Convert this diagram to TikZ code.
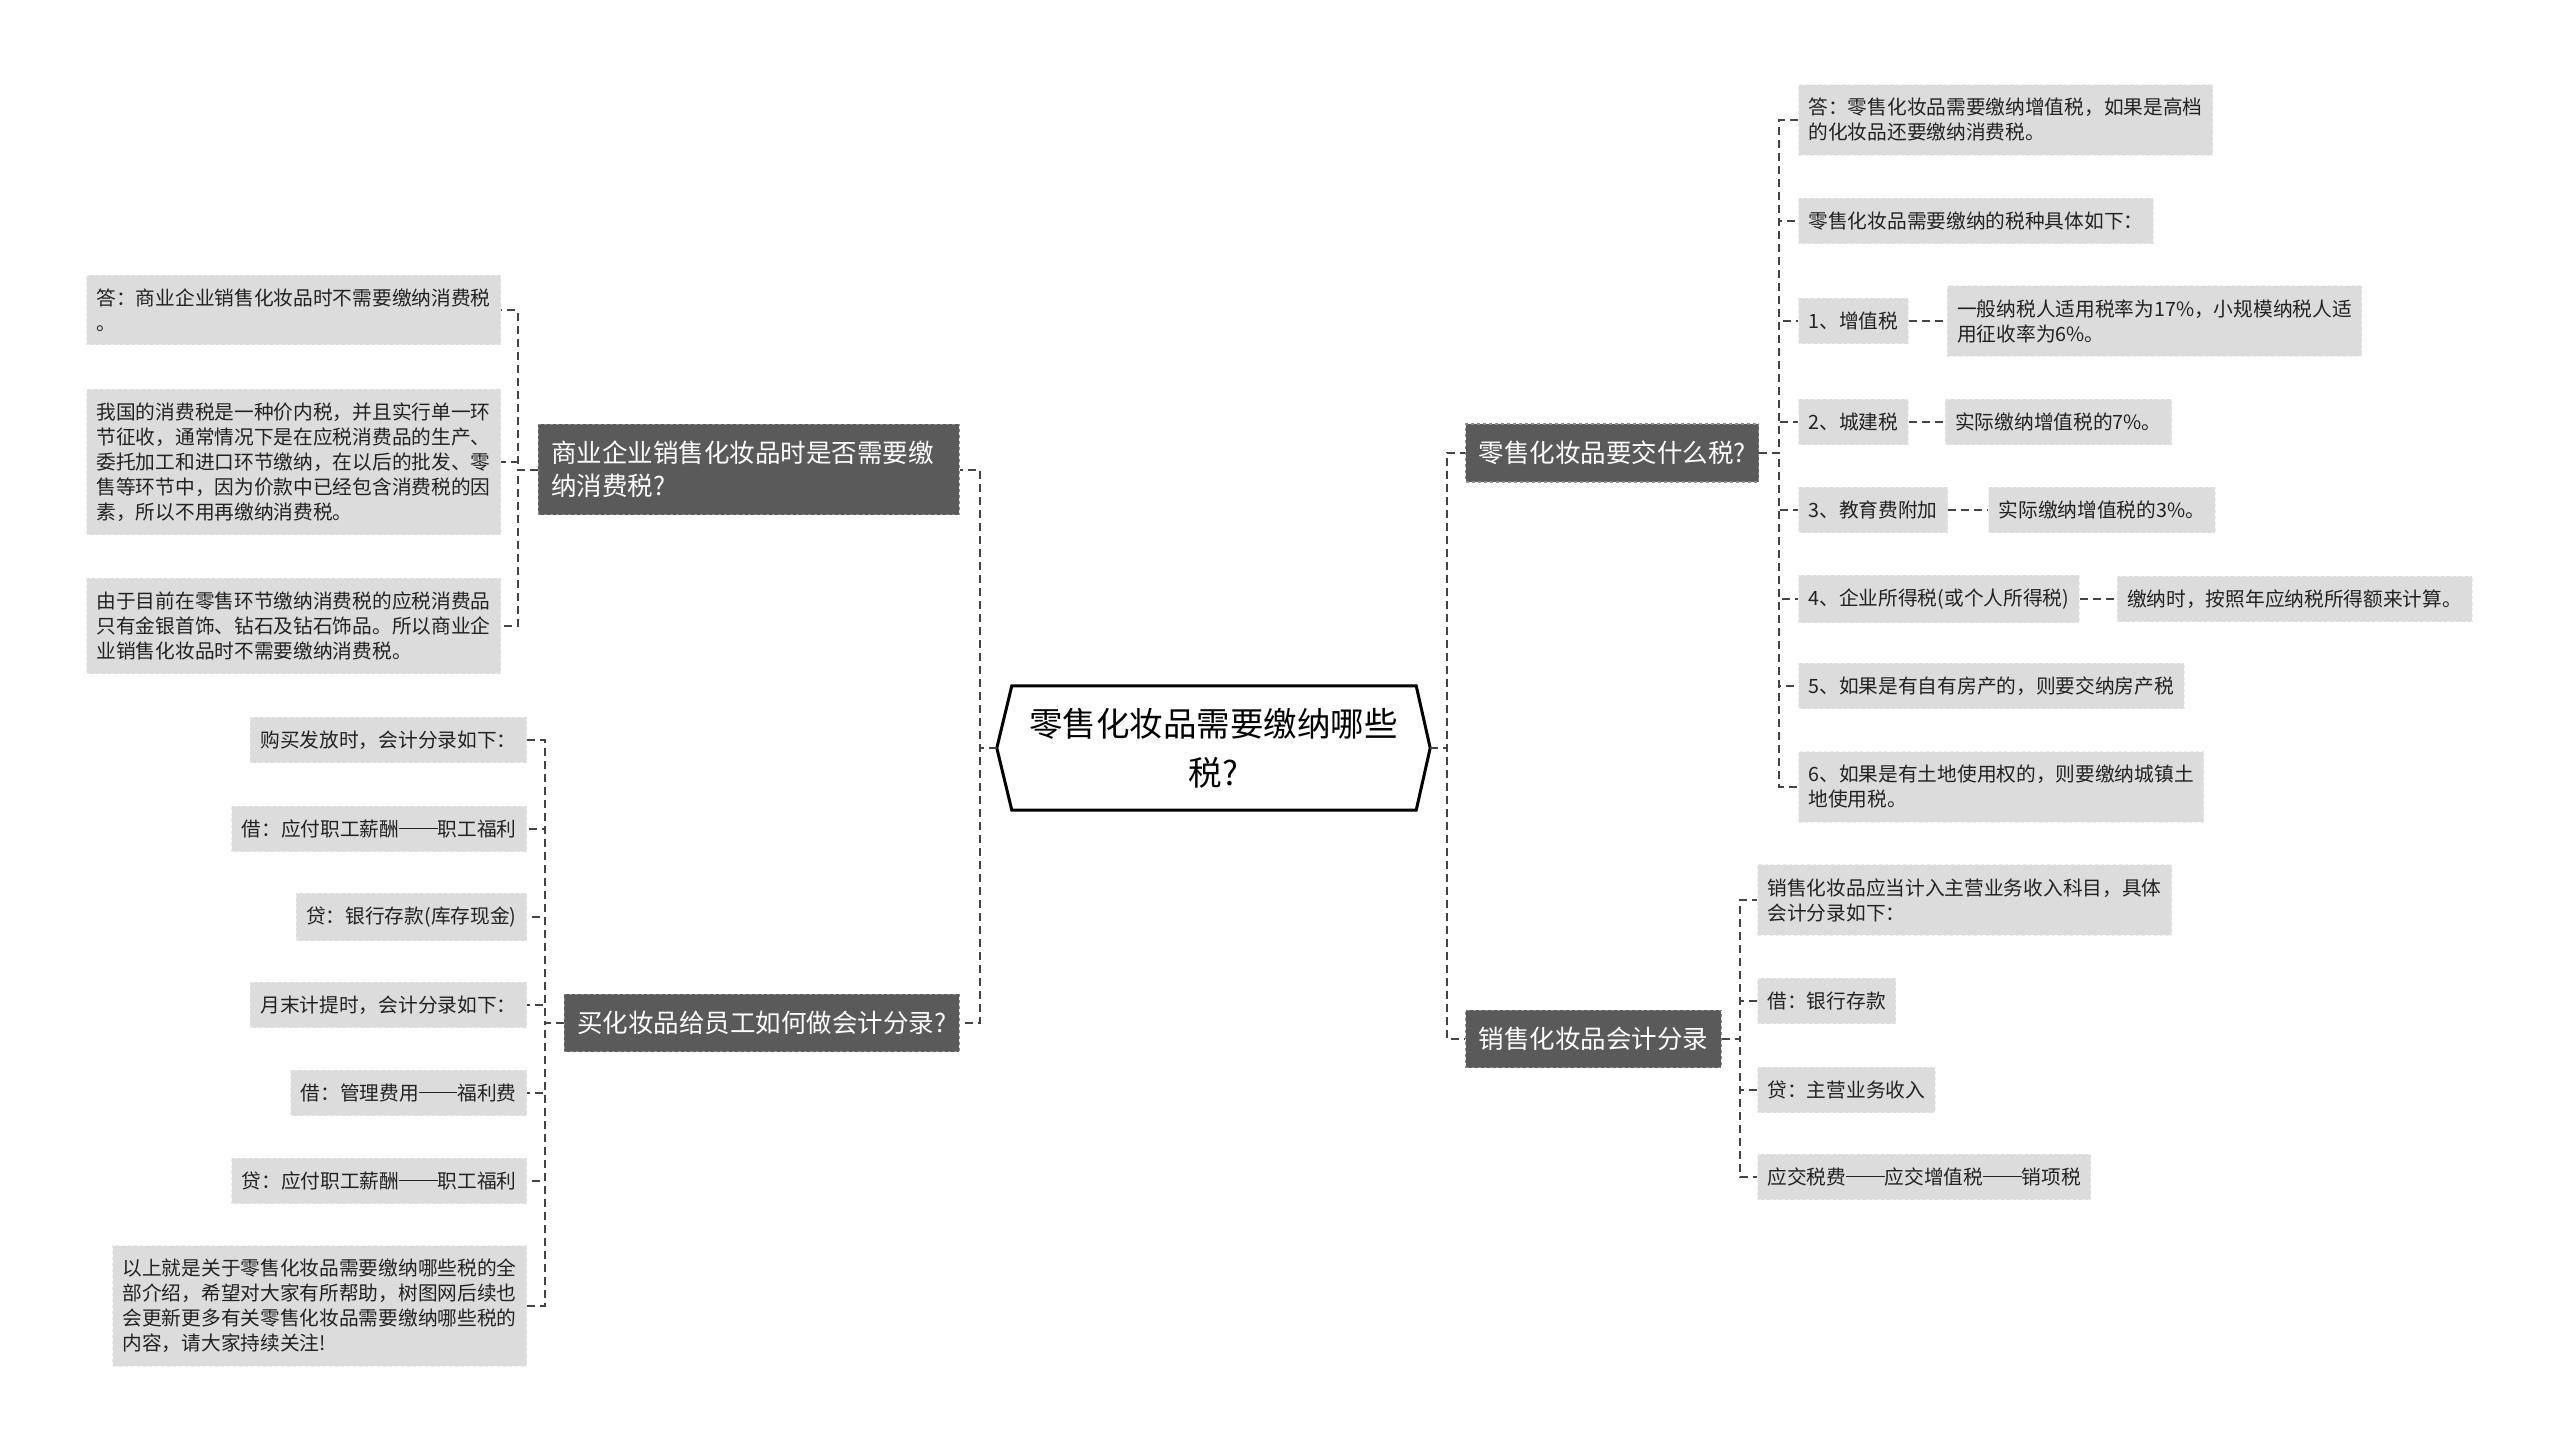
\documentclass[tikz,border=0pt]{standalone}
\usepackage{fontspec}
\setmainfont{Noto Sans CJK SC}
\usetikzlibrary{positioning}
\definecolor{leafFill}{HTML}{DCDCDC}
\definecolor{leafEdge}{HTML}{EBEBEB}
\definecolor{topicFill}{HTML}{5A5A5A}
\definecolor{topicEdge}{HTML}{8C8C8C}
\definecolor{linkGray}{HTML}{444444}
\definecolor{textDark}{HTML}{222222}
\newcommand{\emrule}{\rule[0.36em]{1.95em}{0.06em}}

\tikzset{
  leaf/.style={fill=leafFill, draw=leafEdge, dashed, line width=1pt,
    inner xsep=10pt, inner ysep=13.5pt, align=left, text=textDark,
    font=\fontsize{19.7}{25}\selectfont},
  topic/.style={fill=topicFill, draw=topicEdge, dashed, line width=1.2pt,
    inner xsep=13pt, inner ysep=17pt, align=left, text=white,
    font=\fontsize{25.5}{33}\selectfont},
  link/.style={draw=linkGray, line width=2pt, dash pattern=on 8pt off 5pt},
}

\begin{document}
\begin{tikzpicture}[x=1pt, y=-1pt]
  \fill[white] (0,0) rectangle (2560,1453);
  \useasboundingbox (0,0) rectangle (2560,1453);

  % centre
  \node[minimum width=433pt, minimum height=124pt, align=center,
        font=\fontsize{33.5}{49}\selectfont] (hub) at (1213.5,748)
        {零售化妆品需要缴纳哪些\\税?};
  \draw[line width=3pt, line join=miter]
    (hub.west) -- ([xshift=15pt]hub.north west) -- ([xshift=-14pt]hub.north east)
    -- (hub.east) -- ([xshift=-14pt]hub.south east) -- ([xshift=15pt]hub.south west) -- cycle;

  % left topics
  \node[topic, anchor=east, text width=395pt] (n1) at (960,469.5)
    {商业企业销售化妆品时是否需要缴\\纳消费税?};
  \node[topic, anchor=east] (n2) at (960,1023) {买化妆品给员工如何做会计分录?};

  % right topics
  \node[topic, anchor=west] (r1) at (1465,453) {零售化妆品要交什么税?};
  \node[topic, anchor=west] (r2) at (1465,1039) {销售化妆品会计分录};

  % leaves of n1
  \node[leaf, anchor=east] (l1a) at (501,310) {答：商业企业销售化妆品时不需要缴纳消费税\\。};
  \node[leaf, anchor=east] (l1b) at (501,462)
    {我国的消费税是一种价内税，并且实行单一环\\节征收，通常情况下是在应税消费品的生产、\\委托加工和进口环节缴纳，在以后的批发、零\\售等环节中，因为价款中已经包含消费税的因\\素，所以不用再缴纳消费税。};
  \node[leaf, anchor=east] (l1c) at (501,626)
    {由于目前在零售环节缴纳消费税的应税消费品\\只有金银首饰、钻石及钻石饰品。所以商业企\\业销售化妆品时不需要缴纳消费税。};

  % leaves of n2
  \node[leaf, anchor=east] (m1) at (527,740) {购买发放时，会计分录如下：};
  \node[leaf, anchor=east] (m2) at (527,829) {借：应付职工薪酬\emrule 职工福利};
  \node[leaf, anchor=east] (m3) at (527,917) {贷：银行存款(库存现金)};
  \node[leaf, anchor=east] (m4) at (527,1005) {月末计提时，会计分录如下：};
  \node[leaf, anchor=east] (m5) at (527,1093) {借：管理费用\emrule 福利费};
  \node[leaf, anchor=east] (m6) at (527,1181) {贷：应付职工薪酬\emrule 职工福利};
  \node[leaf, anchor=east] (m7) at (527,1306)
    {以上就是关于零售化妆品需要缴纳哪些税的全\\部介绍，希望对大家有所帮助，树图网后续也\\会更新更多有关零售化妆品需要缴纳哪些税的\\内容，请大家持续关注!};

  % leaves of r1
  \node[leaf, anchor=west] (a1) at (1798,120) {答：零售化妆品需要缴纳增值税，如果是高档\\的化妆品还要缴纳消费税。};
  \node[leaf, anchor=west] (a2) at (1798,221) {零售化妆品需要缴纳的税种具体如下：};
  \node[leaf, anchor=west] (a3) at (1798,321) {1、增值税};
  \node[leaf, anchor=west] (a4) at (1798,422) {2、城建税};
  \node[leaf, anchor=west] (a5) at (1798,510) {3、教育费附加};
  \node[leaf, anchor=west] (a6) at (1798,599) {4、企业所得税(或个人所得税)};
  \node[leaf, anchor=west] (a7) at (1798,686) {5、如果是有自有房产的，则要交纳房产税};
  \node[leaf, anchor=west] (a8) at (1798,787) {6、如果是有土地使用权的，则要缴纳城镇土\\地使用税。};
  \node[leaf, right=38pt of a3] (a3x) {一般纳税人适用税率为17\%，小规模纳税人适\\用征收率为6\%。};
  \node[leaf, right=36pt of a4] (a4x) {实际缴纳增值税的7\%。};
  \node[leaf, right=40pt of a5] (a5x) {实际缴纳增值税的3\%。};
  \node[leaf, right=37pt of a6] (a6x) {缴纳时，按照年应纳税所得额来计算。};

  % leaves of r2
  \node[leaf, anchor=west] (b1) at (1757,900) {销售化妆品应当计入主营业务收入科目，具体\\会计分录如下：};
  \node[leaf, anchor=west] (b2) at (1757,1001) {借：银行存款};
  \node[leaf, anchor=west] (b3) at (1757,1090) {贷：主营业务收入};
  \node[leaf, anchor=west] (b4) at (1757,1177) {应交税费\emrule 应交增值税\emrule 销项税};

  % connectors
  \foreach \t in {n1,n2} \draw[link] (hub.west) -- ++(-17,0) |- (\t.east);
  \foreach \t in {r1,r2} \draw[link] (hub.east) -- ++(17,0) |- (\t.west);
  \foreach \t in {l1a,l1b,l1c} \draw[link] (n1.west) -- ++(-20,0) |- (\t.east);
  \foreach \t in {m1,m2,m3,m4,m5,m6,m7} \draw[link] (n2.west) -- ++(-19,0) |- (\t.east);
  \foreach \t in {a1,a2,a3,a4,a5,a6,a7,a8} \draw[link] (r1.east) -- ++(20,0) |- (\t.west);
  \foreach \t in {b1,b2,b3,b4} \draw[link] (r2.east) -- ++(18,0) |- (\t.west);
  \foreach \p in {a3,a4,a5,a6} \draw[link] (\p.east) -- (\p x.west);
\end{tikzpicture}
\end{document}
